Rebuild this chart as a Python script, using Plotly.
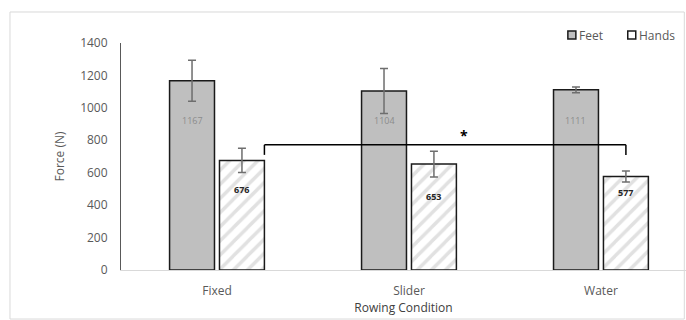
import plotly.graph_objects as go

categories = ["Fixed", "Slider", "Water"]
feet = [1167, 1104, 1111]
feet_err = [127, 139, 18]
hands = [676, 653, 577]
hands_err = [75, 80, 34]
y_ticks = [0, 200, 400, 600, 800, 1000, 1200, 1400]
series_names = ["Feet", "Hands"]
bracket_y = 772
bracket_drop = 62
sig_label = "*"

font_fam = "Open Sans, Liberation Sans, sans-serif"
gray_txt = "#595959"
feet_color = "#bfbfbf"
outline = "#1a1a1a"

fig = go.Figure()
fig.add_trace(go.Bar(
    name=series_names[0], x=categories, y=feet,
    marker=dict(color=feet_color, line=dict(color=outline, width=1.5)),
    error_y=dict(type="data", array=feet_err, color="#6e6e6e", thickness=1.5, width=4),
))
fig.add_trace(go.Bar(
    name=series_names[1], x=categories, y=hands,
    marker=dict(color="white", line=dict(color=outline, width=1.5),
                pattern=dict(shape="/", fgcolor="#c4c4c4", bgcolor="white", size=10, solidity=0.35)),
    error_y=dict(type="data", array=hands_err, color="#6e6e6e", thickness=1.5, width=4),
))

# data labels
feet_label_shift = [-40, -30, -31]
hands_label_shift = [-29, -32, -16]
for i, c in enumerate(categories):
    fig.add_annotation(x=i - 0.13, y=feet[i], text=str(feet[i]), showarrow=False,
                       yshift=feet_label_shift[i], font=dict(size=9, color="#8c8c8c", family=font_fam))
    fig.add_annotation(x=i + 0.13, y=hands[i], text="<b>%d</b>" % hands[i], showarrow=False,
                       yshift=hands_label_shift[i], font=dict(size=9, color="#262626", family=font_fam))

# significance bracket
x_left = 0 + 0.247
x_right = 2 + 0.13
fig.add_shape(type="line", xref="x", yref="y", x0=x_left, x1=x_right, y0=bracket_y, y1=bracket_y,
              line=dict(color="black", width=1.5))
fig.add_shape(type="line", xref="x", yref="y", x0=x_left, x1=x_left, y0=bracket_y, y1=bracket_y - bracket_drop,
              line=dict(color="black", width=1.5))
fig.add_shape(type="line", xref="x", yref="y", x0=x_right, x1=x_right, y0=bracket_y, y1=bracket_y - bracket_drop,
              line=dict(color="black", width=1.5))
fig.add_annotation(x=1.286, y=bracket_y, text="<b>%s</b>" % sig_label, showarrow=False, yshift=9,
                   font=dict(size=14, color="black", family=font_fam))

# chart border
fig.add_shape(type="rect", xref="paper", yref="paper", x0=-0.1965, x1=0.997, y0=-0.216, y1=1.1366,
              line=dict(color="#d9d9d9", width=1), layer="below")

# legend (drawn manually for exact spacing)
leg_fills = [feet_color, "white"]
leg_x = [0.798, 0.904]  # paper x of marker centre
leg_y = 1.035
for name, fill, lx in zip(series_names, leg_fills, leg_x):
    dx = 4 / 565
    dy = 4 / 227
    fig.add_shape(type="rect", xref="paper", yref="paper", x0=lx - dx, x1=lx + dx, y0=leg_y - dy, y1=leg_y + dy,
                  line=dict(color=outline, width=1.5), fillcolor=fill)
    fig.add_annotation(xref="paper", yref="paper", x=lx + 5 / 565, y=leg_y, text=name, showarrow=False,
                       xanchor="left", yanchor="middle", font=dict(size=12, color=gray_txt, family=font_fam))

fig.update_layout(
    width=686, height=320,
    margin=dict(l=121, r=0, t=43, b=50),
    paper_bgcolor="white", plot_bgcolor="white",
    barmode="group", bargap=0.48, bargroupgap=0.1,
    font=dict(family=font_fam, color=gray_txt, size=12),
    showlegend=False,
    xaxis=dict(range=[-0.5, 2.443], showline=True, linecolor="#d9d9d9", linewidth=1,
               ticks="", tickfont=dict(size=12, color=gray_txt), ticklabelstandoff=10,
               title=dict(text="Rowing Condition", font=dict(size=12, color="#404040"), standoff=5)),
    yaxis=dict(range=[0, 1400], tickvals=y_ticks, showgrid=False, zeroline=False,
               showline=True, linecolor="#595959", linewidth=1, ticks="", ticklen=0,
               tickfont=dict(size=12, color=gray_txt), ticklabelstandoff=10,
               title=dict(text="Force (N)", font=dict(size=12, color=gray_txt), standoff=12)),
)

fig.write_html("out.html")
